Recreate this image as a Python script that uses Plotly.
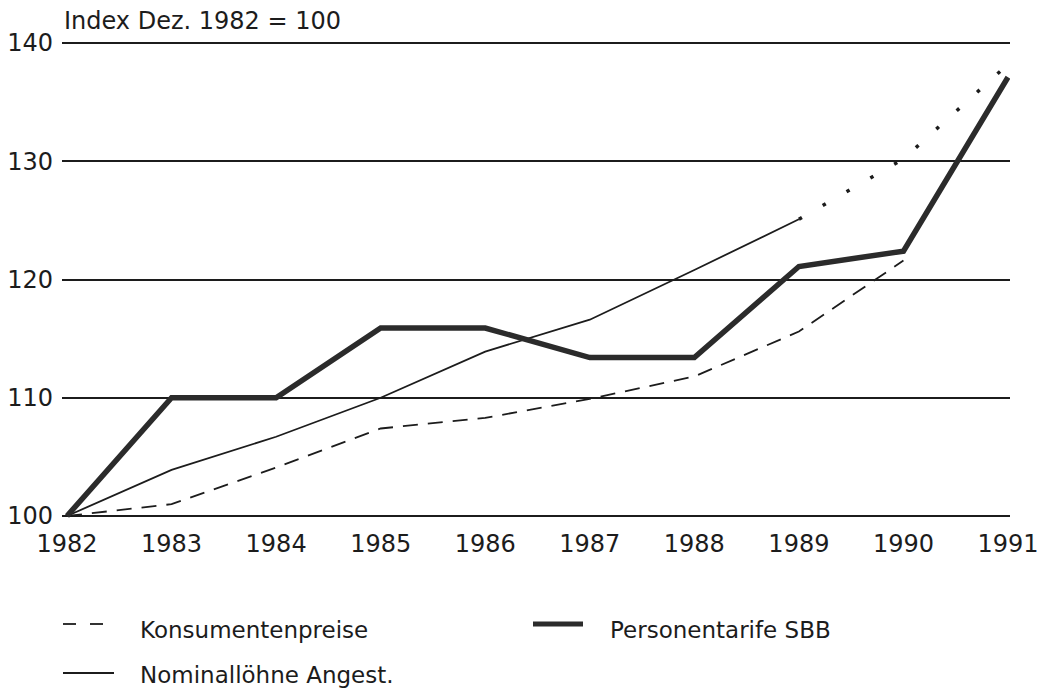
import plotly.graph_objects as go

years = [1982, 1983, 1984, 1985, 1986, 1987, 1988, 1989, 1990, 1991]
konsumentenpreise = [100, 101.0, 104.1, 107.4, 108.3, 109.9, 111.8, 115.6, 121.6, None]
nominalloehne = [100, 103.9, 106.7, 110.0, 113.9, 116.6, 120.8, 125.1, None, None]
proj_years = [1989, 1990, 1991]
nominalloehne_proj = [125.1, 130.2, 138.2]
personentarife = [100, 110, 110, 115.9, 115.9, 113.4, 113.4, 121.1, 122.4, 137.1]

y_ticks = [100, 110, 120, 130, 140]

FONT = "DejaVu Sans"
INK = "#1c1c1c"

fig = go.Figure()
fig.add_trace(go.Scatter(x=years, y=konsumentenpreise, mode="lines", name="Konsumentenpreise",
                         line=dict(color=INK, width=1.8, dash="15px,10px"), showlegend=False))
fig.add_trace(go.Scatter(x=years, y=nominalloehne, mode="lines", name="Nominallöhne Angest.",
                         line=dict(color=INK, width=1.8), showlegend=False))
fig.add_trace(go.Scatter(x=proj_years, y=nominalloehne_proj, mode="lines", name="Nominallöhne (Schätzung)",
                         line=dict(color=INK, width=3.5, dash="3.5px,24px"), showlegend=False))
fig.add_trace(go.Scatter(x=years, y=personentarife, mode="lines", name="Personentarife SBB",
                         line=dict(color="#2b2b2b", width=5.5), showlegend=False))

W, H = 1038, 694
ml, mr, mt, mb = 62, 28, 40, 174
pw, ph = W - ml - mr, H - mt - mb


def px(xp):
    return (xp - ml) / pw


def py(yp):
    return (H - mb - yp) / ph


# custom legend (swatches + labels)
shapes = []
shapes.append(dict(type="line", xref="paper", yref="paper", x0=px(63), x1=px(76), y0=py(624), y1=py(624),
                   line=dict(color=INK, width=1.8)))
shapes.append(dict(type="line", xref="paper", yref="paper", x0=px(90), x1=px(103), y0=py(624), y1=py(624),
                   line=dict(color=INK, width=1.8)))
shapes.append(dict(type="line", xref="paper", yref="paper", x0=px(63), x1=px(114), y0=py(673), y1=py(673),
                   line=dict(color=INK, width=2)))
shapes.append(dict(type="line", xref="paper", yref="paper", x0=px(533), x1=px(583), y0=py(624), y1=py(624),
                   line=dict(color="#2b2b2b", width=5)))

annotations = [
    dict(text="Index Dez. 1982 = 100", xref="paper", yref="paper", x=px(62), y=py(21),
         xanchor="left", yanchor="middle", showarrow=False, font=dict(family=FONT, size=24, color=INK)),
    dict(text="Konsumentenpreise", xref="paper", yref="paper", x=px(138), y=py(630),
         xanchor="left", yanchor="middle", showarrow=False, font=dict(family=FONT, size=23, color=INK)),
    dict(text="Personentarife SBB", xref="paper", yref="paper", x=px(608), y=py(630),
         xanchor="left", yanchor="middle", showarrow=False, font=dict(family=FONT, size=23, color=INK)),
    dict(text="Nominallöhne Angest.", xref="paper", yref="paper", x=px(138), y=py(675),
         xanchor="left", yanchor="middle", showarrow=False, font=dict(family=FONT, size=23, color=INK)),
]

x_left = 1982 - 5 / 104.56
x_right = 1991 + 2 / 104.56
ppu = 11.825
y_top = 140 + 3 / ppu
y_bot = y_top - ph / ppu

fig.update_layout(
    width=W, height=H,
    margin=dict(l=ml, r=mr, t=mt, b=mb, autoexpand=False),
    paper_bgcolor="white", plot_bgcolor="white",
    font=dict(family=FONT, size=24, color=INK),
    shapes=shapes, annotations=annotations,
    xaxis=dict(range=[x_left, x_right], tickvals=years, ticktext=[str(y) for y in years],
               showgrid=False, zeroline=False, showline=False, ticks="", automargin=False,
               ticklabeloverflow="allow",
               tickfont=dict(family=FONT, size=24, color=INK), ticklabelstandoff=7),
    yaxis=dict(range=[y_bot, y_top], tickvals=y_ticks, ticktext=[str(v) for v in y_ticks],
               showgrid=True, gridcolor=INK, gridwidth=1.6, zeroline=False, showline=False, ticks="",
               automargin=False, ticklabeloverflow="allow",
               tickfont=dict(family=FONT, size=24, color=INK), ticklabelstandoff=8),
    showlegend=False,
)

fig.write_html("out.html", config={"displayModeBar": False},
               post_script="document.body.style.margin='0px';")
